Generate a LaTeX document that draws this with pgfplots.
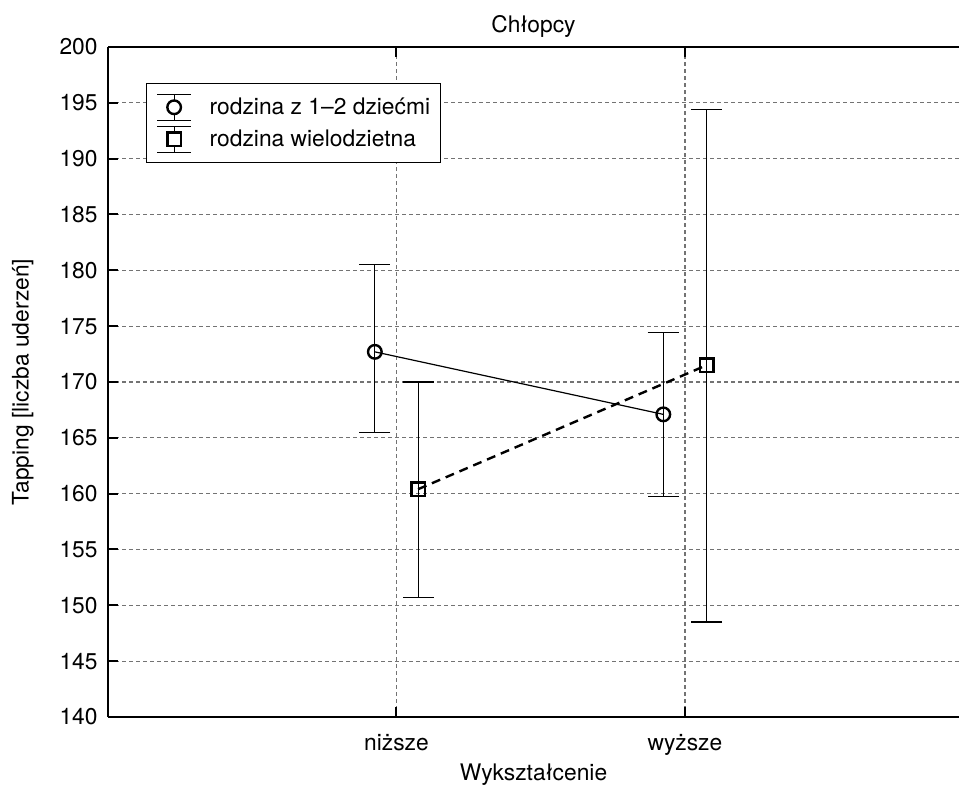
\documentclass[border=0pt]{standalone}
\usepackage{fontspec}
\setmainfont{TeX Gyre Heros}
\usepackage{pgfplots}
\pgfplotsset{compat=1.18}
\newcommand{\chartfont}{\fontsize{11.4bp}{13bp}\selectfont}
\begin{document}
\begin{tikzpicture}
\useasboundingbox (0,0) rectangle (479.5bp,392.5bp);
\begin{axis}[
  at={(54bp,34bp)}, anchor=south west,
  scale only axis, width=425.5bp, height=335bp,
  xmin=0, xmax=2.95, ymin=140, ymax=200,
  axis x line*=box, axis y line*=left,
  axis line style={line width=1.3bp},
  xtick={1,2}, xticklabels={niższe,wyższe},
  ytick={140,145,...,200},
  tick align=inside, major tick length=5bp,
  every tick/.style={black, line width=1bp},
  grid=major,
  major grid style={black!55, line width=0.55bp, dash pattern=on 2bp off 1.5bp},
  /pgf/number format/assume math mode=true,
  tick label style={font=\chartfont},
  xticklabel style={anchor=base, yshift=-16.5bp},
  yticklabel style={anchor=east, xshift=-1.7bp},
  title={Chłopcy},
  title style={font=\chartfont, at={(axis description cs:0.5,1)}, anchor=base, yshift=1.5bp},
  xlabel={Wykształcenie},
  xlabel style={font=\chartfont, at={(axis description cs:0.5,0)}, anchor=center, yshift=-29bp},
  ylabel={Tapping [liczba uderzeń]},
  ylabel style={font=\chartfont, at={(axis description cs:-0.1,0.5)}, anchor=center},
  legend style={font=\chartfont, at={(axis description cs:0.0447,0.946)}, anchor=north west,
    draw=black, line width=0.5bp, inner xsep=5bp, inner ysep=5bp, row sep=2.4bp,
    nodes={inner xsep=0pt, inner ysep=0pt},
    /tikz/every odd column/.append style={column sep=9bp}},
  legend cell align=left,
  error bars/y dir=both, error bars/y explicit,
  error bars/error bar style={black, line width=0.6bp, solid},
  error bars/error mark options={rotate=90, mark size=7.8bp, line width=0.6bp, black, solid},
]
% rodzina z 1-2 dziecmi
\addplot+[black, line width=0.6bp, mark=o,
  mark options={solid, fill=white, line width=1.2bp, mark size=3.4bp},
  legend image code/.code={
    \draw[black, solid, line width=0.6bp] (-8.5bp,6.5bp)--(8.5bp,6.5bp) (0,6.5bp)--(0,-6.5bp) (-8.5bp,-6.5bp)--(8.5bp,-6.5bp);
    \draw[black, solid, fill=white, line width=1.2bp] (0,0) circle (3.4bp);
  }] coordinates {
  (0.925,172.7) += (0,7.8) -= (0,7.25)
  (1.925,167.1) += (0,7.3) -= (0,7.35)
};
% rodzina wielodzietna: dashed line
\addplot[black, line width=1.2bp, dash pattern=on 4.5bp off 3bp, forget plot] coordinates {
  (1.075,160.4)
  (2.075,171.5)
};
% rodzina wielodzietna: marks and error bars
\addplot+[black, only marks, line width=0.6bp, mark=square,
  mark options={solid, fill=white, line width=1.25bp, mark size=3.4bp},
  legend image code/.code={
    \draw[black, solid, line width=0.6bp] (-8.5bp,6.5bp)--(8.5bp,6.5bp) (0,6.5bp)--(0,-6.5bp) (-8.5bp,-6.5bp)--(8.5bp,-6.5bp);
    \draw[black, solid, fill=white, line width=1.25bp] (-3.4bp,-3.4bp) rectangle (3.4bp,3.4bp);
  }] coordinates {
  (1.075,160.4) += (0,9.6) -= (0,9.7)
  (2.075,171.5) += (0,22.9) -= (0,23.0)
};
\legend{rodzina z 1–2 dziećmi, rodzina wielodzietna}
\end{axis}
\end{tikzpicture}
\end{document}
